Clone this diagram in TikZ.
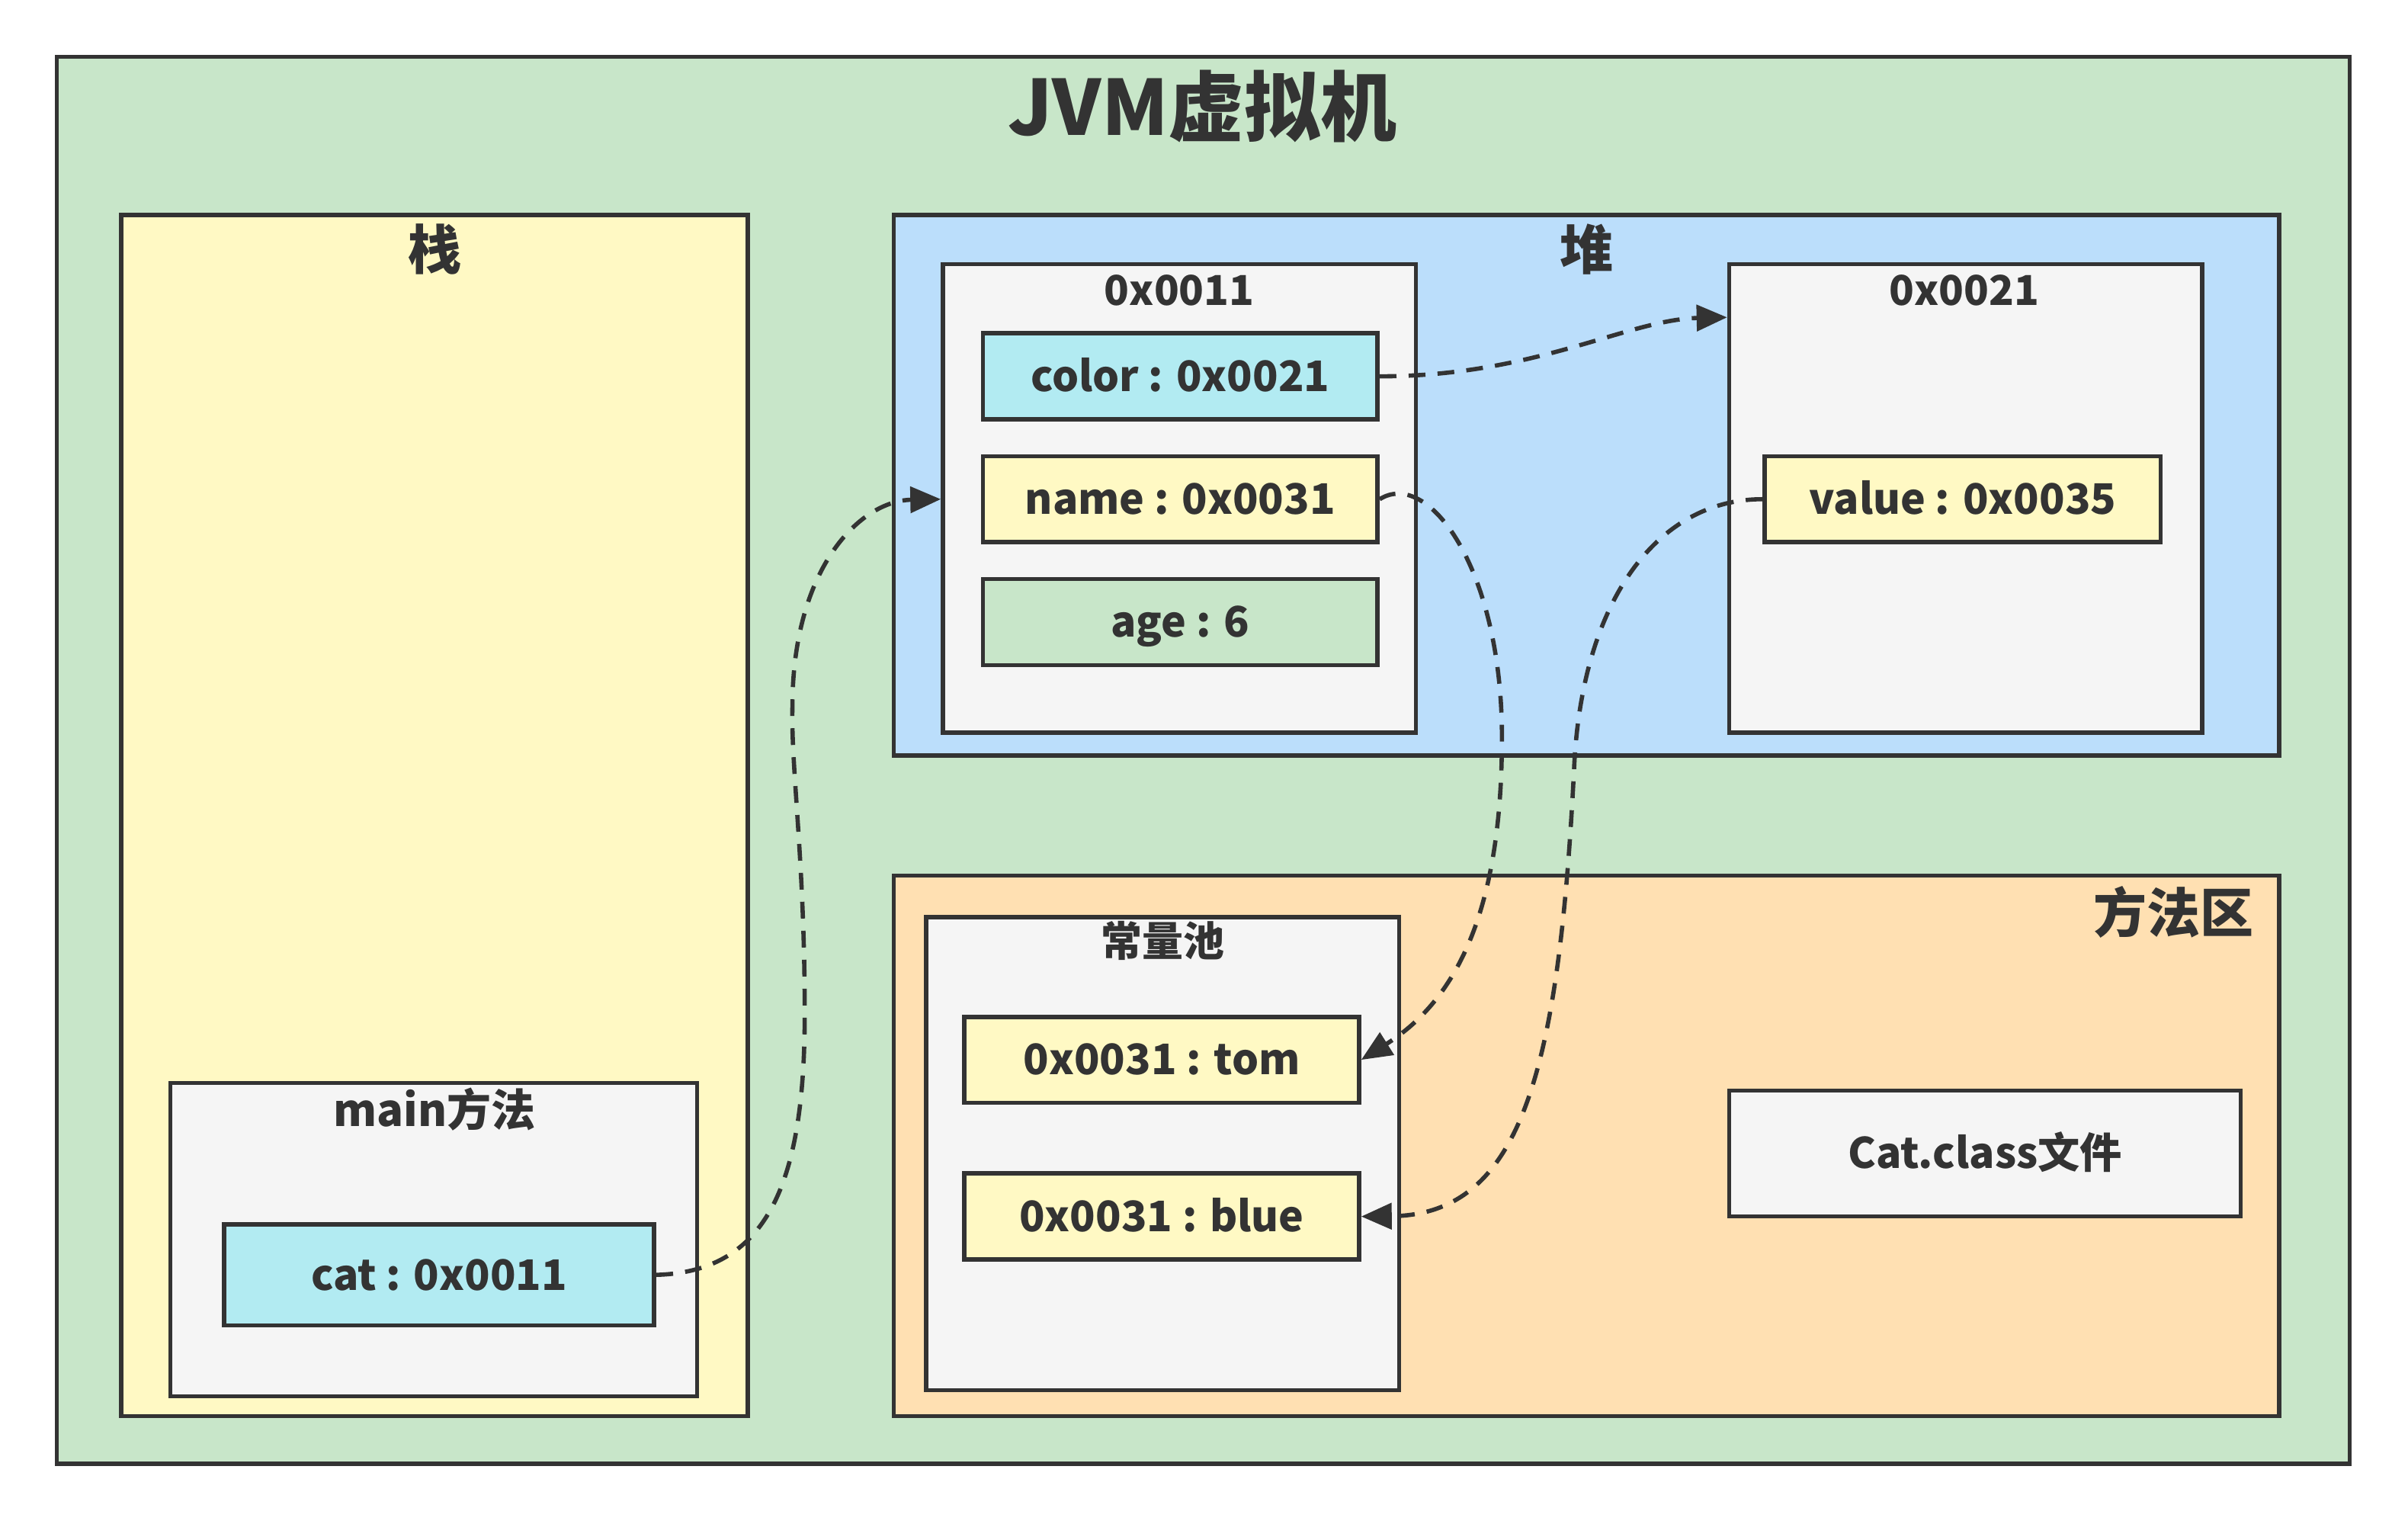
\documentclass[tikz,border=0pt]{standalone}
\usepackage{fontspec}
\setmainfont{Noto Sans CJK SC}
\usetikzlibrary{arrows.meta,calc}
\definecolor{linec}{HTML}{333333}
\definecolor{txtc}{HTML}{333333}
\definecolor{greenbg}{HTML}{C8E6C9}
\definecolor{yellowbg}{HTML}{FFF9C4}
\definecolor{bluebg}{HTML}{BBDEFB}
\definecolor{orangebg}{HTML}{FFE0B2}
\definecolor{graybg}{HTML}{F5F5F5}
\definecolor{cyanbg}{HTML}{B2EBF2}
\newcommand\pxu{0.5037pt}
\begin{document}
\begin{tikzpicture}[x=0.5037pt,y=-0.5037pt,
  box/.style={draw=linec, line width=1.4pt, inner sep=0pt, text=txtc,
    font=\bfseries\fontsize{13.8}{16}\selectfont, text height=9.9pt, text depth=0pt},
  item/.style={box, minimum width=257*\pxu, minimum height=56*\pxu},
  lbl/.style={text=txtc, inner sep=0pt, font=\bfseries\fontsize{14.5}{17}\selectfont,
    text height=10.4pt, text depth=0pt},
  sml/.style={lbl, font=\bfseries\fontsize{13.5}{16}\selectfont, text height=9.7pt},
  sec/.style={text=txtc, inner sep=0pt, font=\bfseries\fontsize{17.5}{20}\selectfont,
    text height=12.6pt, text depth=0pt},
  ttl/.style={text=txtc, inner sep=0pt, font=\bfseries\fontsize{25}{30}\selectfont,
    text height=18pt, text depth=0pt},
  conn/.style={draw=linec, line width=1.4pt, dash pattern=on 5.5pt off 4pt,
    -{Triangle[length=10pt,width=8.5pt]}}]
\fill[white] (0,0) rectangle (1568,992);
\useasboundingbox (0,0) rectangle (1568,992);

% JVM
\node[box, fill=greenbg, minimum width=1493*\pxu, minimum height=916*\pxu] (jvm) at (783.5,495) {};
\node[ttl] (jvmt) at (783,70) {JVM虚拟机};

% stack
\node[box, fill=yellowbg, minimum width=408*\pxu, minimum height=782*\pxu] (stack) at (283,531) {};
\node[sec] (stackt) at (283,163) {栈};
\node[box, fill=graybg, minimum width=343*\pxu, minimum height=204*\pxu] (main) at (282.5,807) {};
\node[lbl] (maint) at (283,723) {main方法};
\node[box, fill=cyanbg, minimum width=280*\pxu, minimum height=66*\pxu] (cat) at (286,830) {cat : 0x0011};

% heap
\node[box, fill=bluebg, minimum width=902*\pxu, minimum height=352*\pxu] (heap) at (1033,316) {};
\node[sec] (heapt) at (1033,163) {堆};
\node[box, fill=graybg, minimum width=308*\pxu, minimum height=305*\pxu] (o11) at (768,324.5) {};
\node[sml] (o11t) at (768,189) {0x0011};
\node[item, fill=cyanbg] (color) at (768.5,245) {color : 0x0021};
\node[item, fill=yellowbg] (name) at (768.5,325) {name : 0x0031};
\node[item, fill=greenbg] (age) at (768.5,405) {age : 6};
\node[box, fill=graybg, minimum width=308*\pxu, minimum height=305*\pxu] (o21) at (1280,324.5) {};
\node[sml] (o21t) at (1279,189) {0x0021};
\node[item, fill=yellowbg, minimum width=258*\pxu] (value) at (1278,325) {value : 0x0035};

% method area
\node[box, fill=orangebg, minimum width=902*\pxu, minimum height=352*\pxu] (method) at (1033,746) {};
\node[sec, anchor=east] (methodt) at (1468,595) {方法区};
\node[box, fill=graybg, minimum width=308*\pxu, minimum height=308*\pxu] (pool) at (757,751) {};
\node[sml] (poolt) at (757,613) {常量池};
\node[item, fill=yellowbg] (tom) at (756.5,690) {0x0031 : tom};
\node[item, fill=yellowbg] (blue) at (756.5,792) {0x0031 : blue};
\node[box, fill=graybg, minimum width=333*\pxu, minimum height=82*\pxu] (catclass) at (1292.5,751) {Cat.class文件};

% connectors
\draw[conn] (cat.east) .. controls (500,828) and (524,770) .. (524,660)
  .. controls (524,560) and (515,500) .. (516,460)
  .. controls (516,370) and (560,326) .. (o11.west |- name.center);
\draw[conn] (color.east) .. controls (1000,245) and (1060,208) .. ($(o21.north west)+(0,36)$);
\draw[conn] (name.east) .. controls (930,305) and (978,370) .. (978,480)
  .. controls (978,590) and (950,650) .. (tom.east);
\draw[conn] (value.west) .. controls (1080,325) and (1030,390) .. (1025,500)
  .. controls (1015,700) and (990,791) .. (blue.east);
\end{tikzpicture}
\end{document}
